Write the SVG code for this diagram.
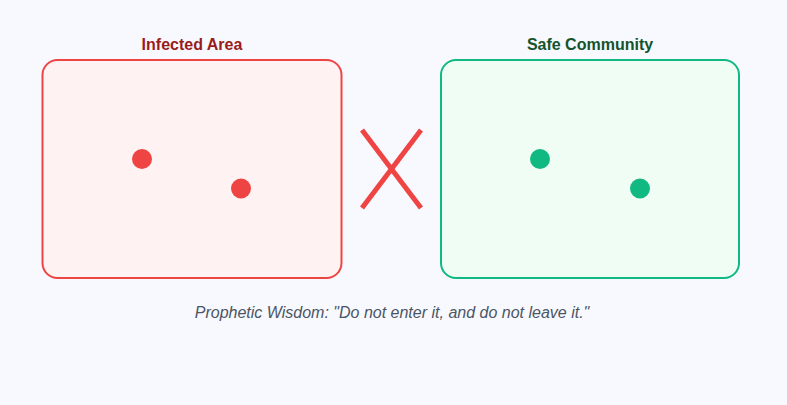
<svg xmlns="http://www.w3.org/2000/svg" width="787" height="405" viewBox="0 0 787 405">
<style>
.title{font-family:"Liberation Sans",Arial,sans-serif;font-size:16px;font-weight:bold;text-anchor:middle}
.cap{font-family:"Liberation Sans",Arial,sans-serif;font-size:16px;font-style:italic;fill:#4b5563;text-anchor:middle}
.cross{stroke:#ef4444;stroke-width:5;stroke-linecap:butt}
</style>
<rect width="787" height="405" fill="#f8f9fe"/>
<g id="infected">
<text class="title" x="192" y="50" fill="#991b1b">Infected Area</text>
<rect x="42.5" y="60" width="299" height="218" rx="15" fill="#fef2f2" stroke="#ef4444" stroke-width="2"/>
<circle cx="142" cy="159" r="10" fill="#ef4444"/>
<circle cx="241" cy="188.5" r="10" fill="#ef4444"/>
</g>
<g id="safe">
<text class="title" x="590" y="50" fill="#14532d">Safe Community</text>
<rect x="441" y="60" width="298" height="218" rx="15" fill="#f0fdf4" stroke="#10b981" stroke-width="2"/>
<circle cx="540" cy="159" r="10" fill="#10b981"/>
<circle cx="640" cy="188.5" r="10" fill="#10b981"/>
</g>
<g id="connectors">
<line class="cross" x1="362" y1="130" x2="421" y2="208"/>
<line class="cross" x1="421" y1="130" x2="362" y2="208"/>
</g>
<text class="cap" x="392" y="318">Prophetic Wisdom: "Do not enter it, and do not leave it."</text>
</svg>
